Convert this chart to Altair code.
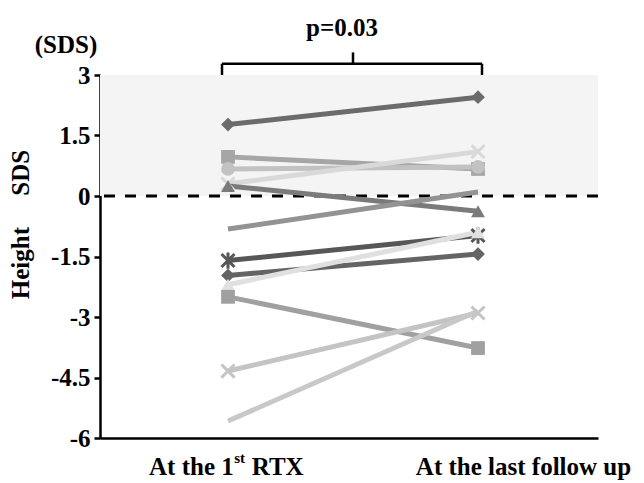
import altair as alt
import pandas as pd

# ---- data ----
series = ["s1", "s2", "s3", "s4", "s5", "s6", "s7", "s8", "s9", "s10", "s11", "s12"]
first_rtx = [1.77, 0.97, 0.67, 0.30, 0.25, -0.82, -1.60, -1.97, -2.20, -2.50, -4.34, -5.58]
last_follow = [2.45, 0.67, 0.72, 1.10, -0.38, 0.10, -0.98, -1.44, -0.90, -3.77, -2.90, -2.85]
markers = ["diamond", "square", "circle", "x", "triangle", "none",
           "star", "diamond", "triangle", "square", "x", "none"]
stages = ["At the 1st RTX", "At the last follow up"]
y_ticks = [3, 1.5, 0, -1.5, -3, -4.5, -6]
normal_range = [0, 3]
p_text = "p=0.03"

# ---- styles ----
colors = ["#6b6b6b", "#a6a6a6", "#c2c2c2", "#d9d9d9", "#7a7a7a", "#939393",
          "#575757", "#646464", "#e0e0e0", "#a0a0a0", "#c4c4c4", "#c8c8c8"]
SHAPES = {
    "diamond": "diamond",
    "square": "square",
    "circle": "circle",
    "triangle": "triangle-up",
    "x": "M-1,-1L1,1M-1,1L1,-1",
    "star": "M-1,-1L1,1M-1,1L1,-1M0,-1.25L0,1.25",
}
FONT = "Liberation Serif"

rows = []
for i, (s, a, b, m) in enumerate(zip(series, first_rtx, last_follow, markers)):
    rows.append({"series": s, "order": i, "stage": 0, "value": a, "marker": m})
    rows.append({"series": s, "order": i, "stage": 1, "value": b, "marker": m})
df = pd.DataFrame(rows)
df["shape"] = df["marker"].map(lambda m: SHAPES.get(m, ""))

xscale = alt.Scale(domain=[-0.512, 1.48], nice=False, zero=False)
yscale = alt.Scale(domain=[-6, 3], nice=False, zero=False)
cscale = alt.Scale(domain=series, range=colors)

base = alt.Chart(df)

band = alt.Chart(pd.DataFrame({"lo": [normal_range[0]], "hi": [normal_range[1]]})).mark_rect(
    color="#f4f4f4"
).encode(
    x=alt.value(0), x2=alt.value("width"),
    y=alt.Y("lo:Q", scale=yscale,
            axis=alt.Axis(values=y_ticks, labelExpr="'' + datum.value",
                          labelFont=FONT, labelFontWeight="bold", labelFontSize=25,
                          labelColor="black", labelPadding=4,
                          tickColor="black", tickSize=6, tickWidth=2.5,
                          domainColor="black", domainWidth=2.5, grid=False,
                          title="Height\u00a0\u00a0\u00a0\u00a0\u00a0SDS",
                          titleFont=FONT, titleFontWeight="bold", titleFontSize=25,
                          titleColor="black", titleAngle=270, titleX=-72, titleY=149,
                          titleAlign="center", titleBaseline="alphabetic")),
    y2="hi:Q",
)

zero_rule = alt.Chart(pd.DataFrame({"z": [0]})).mark_rule(
    color="black", strokeWidth=3, strokeDash=[11, 10]
).encode(y=alt.Y("z:Q", scale=yscale))

lines = base.mark_line(strokeWidth=5).encode(
    x=alt.X("stage:Q", scale=xscale,
            axis=alt.Axis(labels=False, ticks=False, title=None, grid=False,
                          domainColor="black", domainWidth=2.5)),
    y=alt.Y("value:Q", scale=yscale),
    detail="series:N",
    color=alt.Color("series:N", scale=cscale, legend=None),
)

stroked = base.transform_filter(
    alt.FieldOneOfPredicate(field="marker", oneOf=["x", "star"])
).mark_point(filled=False, strokeWidth=3, opacity=1, size=170).encode(
    x=alt.X("stage:Q", scale=xscale),
    y=alt.Y("value:Q", scale=yscale),
    shape=alt.Shape("shape:N", scale=None),
    color=alt.Color("series:N", scale=cscale, legend=None),
)

filled = base.transform_filter(
    alt.FieldOneOfPredicate(field="marker", oneOf=["diamond", "square", "circle", "triangle"])
).mark_point(filled=True, opacity=1, size=190).encode(
    x=alt.X("stage:Q", scale=xscale),
    y=alt.Y("value:Q", scale=yscale),
    shape=alt.Shape("shape:N", scale=None),
    color=alt.Color("series:N", scale=cscale, legend=None),
)

# bracket linking the two stages
bracket_df = pd.DataFrame({
    "x": [-0.024, -0.024, 1.016, 0.5],
    "x2": [-0.024, 1.016, 1.016, 0.5],
    "y": [3.0, 3.28, 3.0, 3.28],
    "y2": [3.28, 3.28, 3.28, 3.56],
})
bracket = alt.Chart(bracket_df).mark_rule(color="black", strokeWidth=2.5).encode(
    x=alt.X("x:Q", scale=xscale), x2="x2:Q",
    y=alt.Y("y:Q", scale=yscale), y2="y2:Q",
)

texts_df = pd.DataFrame({
    "x": [0.456, -0.648],
    "y": [4.17, 3.74],
    "t": [p_text, "(SDS)"],
})
texts = alt.Chart(texts_df).mark_text(
    font=FONT, fontWeight="bold", fontSize=25, color="black", baseline="middle", align="center"
).encode(x=alt.X("x:Q", scale=xscale), y=alt.Y("y:Q", scale=yscale), text="t:N")

lab_y = -6.72
lab_left = alt.Chart(pd.DataFrame({"x": [0.023], "y": [lab_y], "t": ["At the 1"]})).mark_text(
    font=FONT, fontWeight="bold", fontSize=25, color="black", baseline="middle", align="right"
).encode(x=alt.X("x:Q", scale=xscale), y=alt.Y("y:Q", scale=yscale), text="t:N")
lab_sup = alt.Chart(pd.DataFrame({"x": [0.025], "y": [lab_y], "t": ["st"]})).mark_text(
    font=FONT, fontWeight="bold", fontSize=15, color="black", baseline="middle", align="left", dy=-9
).encode(x=alt.X("x:Q", scale=xscale), y=alt.Y("y:Q", scale=yscale), text="t:N")
lab_rtx = alt.Chart(pd.DataFrame({"x": [0.095], "y": [lab_y], "t": ["RTX"]})).mark_text(
    font=FONT, fontWeight="bold", fontSize=25, color="black", baseline="middle", align="left"
).encode(x=alt.X("x:Q", scale=xscale), y=alt.Y("y:Q", scale=yscale), text="t:N")
lab_right = alt.Chart(pd.DataFrame({"x": [1.182], "y": [lab_y], "t": [stages[1]]})).mark_text(
    font=FONT, fontWeight="bold", fontSize=25, color="black", baseline="middle", align="center"
).encode(x=alt.X("x:Q", scale=xscale), y=alt.Y("y:Q", scale=yscale), text="t:N")

chart = alt.layer(
    band, zero_rule, lines, stroked, filled, bracket, texts,
    lab_left, lab_sup, lab_rtx, lab_right
).properties(
    width=498, height=363,
    autosize=alt.AutoSizeParams(type="none"),
    padding={"left": 92, "top": 67, "right": 38, "bottom": 44},
).configure_view(stroke=None)

chart.save("out.html", embed_options={"renderer": "svg", "actions": False})
